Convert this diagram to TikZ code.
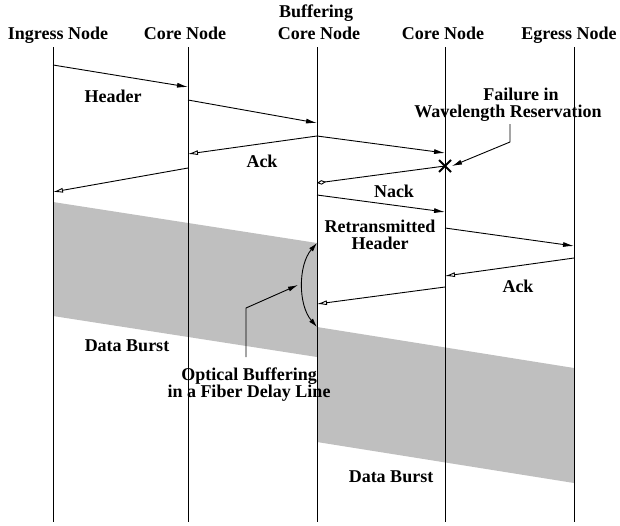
\documentclass[tikz,border=0pt]{standalone}
\usepackage{fontspec}
\setmainfont{Liberation Serif}
\usetikzlibrary{arrows.meta}
\begin{document}
\begin{tikzpicture}[x=1pt,y=-1pt,
  lbl/.style={font=\fontsize{18}{17}\selectfont\bfseries, inner sep=0pt, align=center},
  hdr/.style={lbl, anchor=base},
  life/.style={line width=0.9pt},
  msg/.style={line width=0.9pt,-{Latex[length=11pt,width=5pt]}},
  ack/.style={line width=0.9pt,-{Latex[open,length=10pt,width=5pt]}},
  nack/.style={line width=0.9pt,-{Kite[open,length=9pt,width=4.5pt,inset=4.5pt]}},
  pointer/.style={line width=0.9pt,-{Latex[length=10pt,width=5pt]}},
  band/.style={fill=black!25, draw=none}]
\useasboundingbox (0,0) rectangle (620,525);

% data bursts
\fill[band] (53,202) -- (317,243) -- (317,357) -- (53,316) -- cycle;
\fill[band] (317,327) -- (574,368) -- (574,483) -- (317,442) -- cycle;

% headers
\node[hdr] (hA) at (58,39.5) {Ingress Node};
\node[hdr] (hB) at (185,39.5) {Core Node};
\node[hdr] (hC0) at (316,17) {Buffering};
\node[hdr] (hC) at (319,39.5) {Core Node};
\node[hdr] (hD) at (443,39.5) {Core Node};
\node[hdr] (hE) at (569,39.5) {Egress Node};

% lifelines
\foreach \n/\x in {A/53,B/188,C/317,D/445,E/574}{
  \coordinate (t\n) at (\x,47);
  \coordinate (b\n) at (\x,522);
  \draw[life] (t\n) -- (b\n);
}

% message end points
\coordinate (m1s) at (53,65);   \coordinate (m1e) at (188,87);
\coordinate (m2s) at (188,100); \coordinate (m2e) at (317,123);
\coordinate (m3s) at (317,136); \coordinate (m3e) at (445,153);
\coordinate (m4e) at (188,154);
\coordinate (m5s) at (188,168); \coordinate (m5e) at (53,192);
\coordinate (fail) at (445,166); \coordinate (m6e) at (317,183);
\coordinate (m7s) at (317,195); \coordinate (m7e) at (445,212);
\coordinate (m8s) at (445,228); \coordinate (m8e) at (574,246);
\coordinate (m9s) at (574,258); \coordinate (m9e) at (445,276);
\coordinate (m10s) at (445,287); \coordinate (m10e) at (317,304);

\draw[msg] (m1s) -- (m1e);
\draw[msg] (m2s) -- (m2e);
\draw[msg] (m3s) -- (m3e);
\draw[ack] (m3s) -- (m4e);
\draw[ack] (m5s) -- (m5e);
\draw[nack] (fail) -- (m6e);
\draw[msg] (m7s) -- (m7e);
\draw[msg] (m8s) -- (m8e);
\draw[ack] (m9s) -- (m9e);
\draw[ack] (m10s) -- (m10e);

% failure cross
\draw[line width=2pt] ([shift={(-6,-6)}]fail) -- ([shift={(6,6)}]fail)
                      ([shift={(-6,6)}]fail) -- ([shift={(6,-6)}]fail);

% labels
\node[lbl] (lHeader) at (113,96) {Header};
\node[lbl] (lAck1) at (262,161) {Ack};
\node[lbl] (lNack) at (394,191) {Nack};
\node[lbl] (lRetx) at (380,234.5) {Retransmitted\\Header};
\node[lbl] (lAck2) at (518,286) {Ack};
\node[lbl] (lDB1) at (127,346) {Data Burst};
\node[lbl] (lDB2) at (391,477) {Data Burst};
\node[hdr] (lFail1) at (521,100) {Failure in};
\node[hdr] (lFail2) at (508,117) {Wavelength Reservation};
\node[lbl] (lOpt) at (249,384.5) {Optical Buffering\\in a Fiber Delay Line};

% failure pointer
\coordinate (fp1) at (510,124);
\coordinate (fp2) at (510,142);
\coordinate (fp3) at (452,166);
\draw[pointer] (fp1) -- (fp2) -- (fp3);

% buffering delay double arrow
\coordinate (bufTop) at (317,243);
\coordinate (bufBot) at (317,327);
\draw[line width=0.9pt,{Latex[length=9pt,width=5pt]}-{Latex[length=9pt,width=5pt]}]
  (bufTop) .. controls (298,265) and (298,305) .. (bufBot);

% optical buffering pointer
\coordinate (op1) at (246,357);
\coordinate (op2) at (246,308);
\coordinate (op3) at (298,285);
\draw[pointer] (op1) -- (op2) -- (op3);
\end{tikzpicture}
\end{document}
